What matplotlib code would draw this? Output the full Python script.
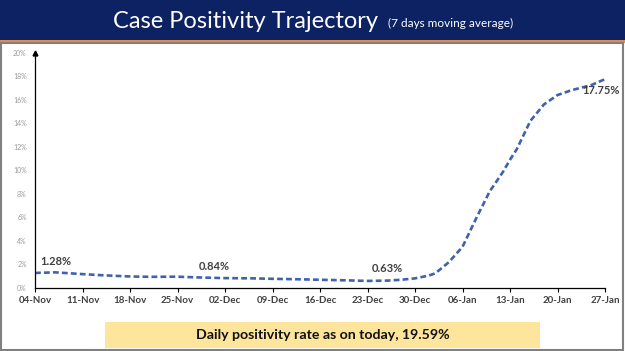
import matplotlib
matplotlib.use("Agg")
import matplotlib.pyplot as plt
import matplotlib.dates as mdates
from matplotlib.patches import Rectangle
import pandas as pd

# 7-day moving average of case positivity (%)
dates = ['2020-11-04', '2020-11-07', '2020-11-11', '2020-11-14', '2020-11-18',
         '2020-11-21', '2020-11-25', '2020-11-28', '2020-12-02', '2020-12-06',
         '2020-12-09', '2020-12-13', '2020-12-16', '2020-12-20', '2020-12-23',
         '2020-12-26', '2020-12-28', '2020-12-30', '2021-01-01', '2021-01-02',
         '2021-01-04', '2021-01-06', '2021-01-08', '2021-01-10', '2021-01-12',
         '2021-01-13', '2021-01-14', '2021-01-16', '2021-01-18', '2021-01-20',
         '2021-01-22', '2021-01-24', '2021-01-25', '2021-01-27']
positivity = [1.28, 1.33, 1.18, 1.08, 0.98,
              0.95, 0.96, 0.90, 0.84, 0.82,
              0.78, 0.74, 0.70, 0.65, 0.60,
              0.63, 0.70, 0.82, 1.05, 1.25,
              2.2, 3.5, 5.9, 8.2, 9.9,
              10.9, 11.8, 14.2, 15.6, 16.4,
              16.8, 17.1, 17.25, 17.75]

tick_dates = ['2020-11-04', '2020-11-11', '2020-11-18', '2020-11-25', '2020-12-02',
              '2020-12-09', '2020-12-16', '2020-12-23', '2020-12-30', '2021-01-06',
              '2021-01-13', '2021-01-20', '2021-01-27']
y_ticks = [0, 2, 4, 6, 8, 10, 12, 14, 16, 18, 20]

# labelled points: (date, value, text)
callouts = [('2020-11-04', 1.28, '1.28%'), ('2020-12-02', 0.84, '0.84%'),
            ('2020-12-23', 0.63, '0.63%'), ('2021-01-27', 17.75, '17.75%')]
# label offsets in points (dx, dy)
offsets = [(4, 6), (-8, 6), (14, 6), (-3, -11)]

title = 'Case Positivity Trajectory'
subtitle = '(7 days moving average)'
footer = 'Daily positivity rate as on today, 19.59%'

plt.rcParams['font.family'] = ['Lato', 'DejaVu Sans']

x = pd.to_datetime(dates)
ticks = pd.to_datetime(tick_dates)

fig = plt.figure(figsize=(6.25, 3.51), dpi=100, facecolor='white')

# slide decoration: navy title band, orange rule, grey frame
fig.patches.append(Rectangle((0, 1 - 40/351), 1, 40/351, transform=fig.transFigure,
                             facecolor='#0c2263', edgecolor='none', zorder=0))
fig.patches.append(Rectangle((0, 1 - 43/351), 1, 3/351, transform=fig.transFigure,
                             facecolor='#e58a4e', edgecolor='none', zorder=0))
fig.patches.append(Rectangle((0.002, 0.004), 0.994, 1 - 43/351 - 0.004, transform=fig.transFigure,
                             facecolor='none', edgecolor='#808080', lw=1.5, zorder=0))

fig.text(113/625, 1 - 21/351, title, color='white', fontsize=17, va='center', ha='left')
fig.text(388/625, 1 - 23/351, subtitle, color='white', fontsize=8.5, va='center', ha='left')

# footer box
fig.patches.append(Rectangle((105/625, 1 - 348/351), 435/625, 26/351, transform=fig.transFigure,
                             facecolor='#fde59c', edgecolor='none', zorder=1))
fig.text(323/625, 1 - 335/351, footer, fontsize=10.2, fontweight='bold', color='#111111',
         ha='center', va='center', zorder=2)

ax = fig.add_axes([35/625, 1 - 288/351, 570/625, (288 - 52.7)/351])
ax.plot(x, positivity, color='#3f62ad', lw=1.9, linestyle=(0, (2.2, 1.2)), solid_capstyle='butt')

ax.set_xlim(ticks[0], ticks[-1])
ax.set_ylim(0, 20)
ax.set_xticks(ticks)
ax.xaxis.set_major_formatter(mdates.DateFormatter('%d-%b'))
ax.set_yticks(y_ticks)
ax.set_yticklabels([f'{v}%' for v in y_ticks])
ax.tick_params(axis='x', length=3, width=0.8, labelsize=7, colors='black',
               labelcolor='#404040', pad=3)
for lab in ax.get_xticklabels():
    lab.set_fontweight('bold')
ax.tick_params(axis='y', length=0, labelsize=5, labelcolor='#9a9a9a', pad=6)
for s in ['top', 'right']:
    ax.spines[s].set_visible(False)
ax.spines['left'].set_linewidth(0.9)
ax.spines['bottom'].set_linewidth(0.9)
ax.plot(0, 1, marker='^', markersize=3.5, color='black', transform=ax.transAxes, clip_on=False)

for (d, v, t), (ox, oy) in zip(callouts, offsets):
    ax.annotate(t, (pd.to_datetime(d), v), xytext=(ox, oy), textcoords='offset points',
                fontsize=8, fontweight='bold', color='#404040',
                ha='left' if ox > 0 and d == '2020-11-04' else 'center')

fig.savefig('out.png', dpi=100, facecolor='white')
